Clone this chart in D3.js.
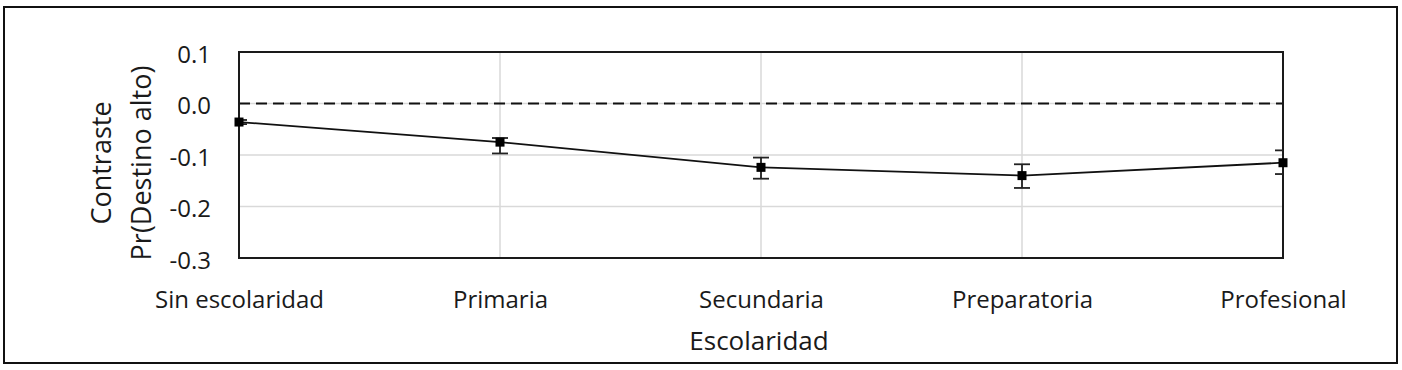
<!DOCTYPE html>
<html>
<head>
<meta charset="utf-8">
<script src="https://cdn.jsdelivr.net/npm/d3@7"></script>
<style>
  html, body { margin: 0; padding: 0; background: #fff; }
  svg { display: block; }
  text { font-family: "Open Sans", "Noto Sans", sans-serif; fill: #1a1a1a; }
</style>
</head>
<body>
<script>
const categories = ["Sin escolaridad", "Primaria", "Secundaria", "Preparatoria", "Profesional"];
const values = [-0.036, -0.075, -0.124, -0.140, -0.115];
const lowerCI = [-0.040, -0.097, -0.146, -0.164, -0.137];
const upperCI = [-0.032, -0.067, -0.105, -0.118, -0.091];
const yTickValues = [0.1, 0.0, -0.1, -0.2, -0.3];
const yTickLabels = ["0.1", "0.0", "-0.1", "-0.2", "-0.3"];
const xTitle = "Escolaridad";
const yTitleLines = ["Contraste", "Pr(Destino alto)"];

const W = 1402, H = 370;
const plot = { left: 239, right: 1283, top: 52, bottom: 258 };

const svg = d3.select("body").append("svg").attr("width", W).attr("height", H);

// outer border
svg.append("rect").attr("x", 4).attr("y", 7).attr("width", 1393).attr("height", 356)
  .attr("fill", "#fff").attr("stroke", "#111").attr("stroke-width", 2);

const x = d3.scalePoint().domain(categories).range([plot.left, plot.right]);
const y = d3.scaleLinear().domain([-0.3, 0.1]).range([plot.bottom, plot.top]);

// clip
svg.append("defs").append("clipPath").attr("id", "pclip")
  .append("rect").attr("x", plot.left).attr("y", plot.top)
  .attr("width", plot.right - plot.left).attr("height", plot.bottom - plot.top);

// gridlines
const grid = svg.append("g");
grid.selectAll("line.h").data(yTickValues).join("line")
  .attr("x1", plot.left).attr("x2", plot.right)
  .attr("y1", d => y(d)).attr("y2", d => y(d))
  .attr("stroke", "#d9d9d9").attr("stroke-width", 1.5);
grid.selectAll("line.v").data(categories).join("line")
  .attr("x1", d => x(d)).attr("x2", d => x(d))
  .attr("y1", plot.top).attr("y2", plot.bottom)
  .attr("stroke", "#d9d9d9").attr("stroke-width", 1.5);

// zero dashed line
svg.append("line")
  .attr("x1", plot.left).attr("x2", plot.right)
  .attr("y1", y(0)).attr("y2", y(0))
  .attr("stroke", "#111").attr("stroke-width", 2)
  .attr("stroke-dasharray", "11,6");

// frame
svg.append("rect").attr("x", plot.left).attr("y", plot.top)
  .attr("width", plot.right - plot.left).attr("height", plot.bottom - plot.top)
  .attr("fill", "none").attr("stroke", "#1a1a1a").attr("stroke-width", 2);

// y axis labels
const yAxis = d3.axisLeft(y).tickValues(yTickValues)
  .tickFormat((d, i) => yTickLabels[i]).tickSize(0).tickPadding(28);
const yg = svg.append("g").attr("transform", `translate(${plot.left},0)`).call(yAxis);
yg.select(".domain").remove();
yg.selectAll("text").attr("font-size", 24).attr("dy", "0.42em")
  .style("font-family", '"Open Sans", sans-serif').attr("fill", "#1a1a1a");

// x axis labels
const xAxis = d3.axisBottom(x).tickSize(0).tickPadding(0);
const xg = svg.append("g").attr("transform", `translate(0,${plot.bottom})`).call(xAxis);
xg.select(".domain").remove();
xg.selectAll("text").attr("font-size", 24).attr("dy", 0).attr("y", 50)
  .style("font-family", '"Open Sans", sans-serif').attr("fill", "#1a1a1a");

// line
const pts = categories.map((c, i) => ({ c, v: values[i], lo: lowerCI[i], hi: upperCI[i] }));
svg.append("path").datum(pts)
  .attr("d", d3.line().x(d => x(d.c)).y(d => y(d.v)))
  .attr("fill", "none").attr("stroke", "#111").attr("stroke-width", 1.8);

// error bars
const eb = svg.append("g").attr("clip-path", "url(#pclip)")
  .attr("stroke", "#222").attr("stroke-width", 1.8);
eb.selectAll("line.stem").data(pts).join("line")
  .attr("x1", d => x(d.c)).attr("x2", d => x(d.c))
  .attr("y1", d => y(d.lo)).attr("y2", d => y(d.hi));
eb.selectAll("line.capl").data(pts).join("line")
  .attr("x1", d => x(d.c) - 8).attr("x2", d => x(d.c) + 8)
  .attr("y1", d => y(d.lo)).attr("y2", d => y(d.lo));
eb.selectAll("line.caph").data(pts).join("line")
  .attr("x1", d => x(d.c) - 8).attr("x2", d => x(d.c) + 8)
  .attr("y1", d => y(d.hi)).attr("y2", d => y(d.hi));

// markers
svg.selectAll("rect.m").data(pts).join("rect")
  .attr("x", d => x(d.c) - 4.5).attr("y", d => y(d.v) - 4.5)
  .attr("width", 9).attr("height", 9).attr("fill", "#000");

// titles
svg.append("text").attr("x", (plot.left + plot.right) / 2 - 2).attr("y", 350)
  .attr("text-anchor", "middle").attr("font-size", 26).text(xTitle);

const yt = svg.append("text").attr("transform", "translate(111,163) rotate(-90)")
  .attr("text-anchor", "middle").attr("font-size", 27);
yt.selectAll("tspan").data(yTitleLines).join("tspan")
  .attr("x", 0).attr("dy", (d, i) => i === 0 ? 0 : 40).text(d => d);
</script>
</body>
</html>
